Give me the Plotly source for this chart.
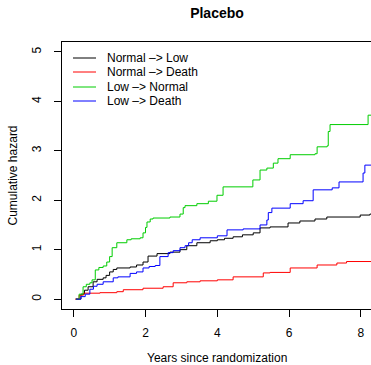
import plotly.graph_objects as go

# ---- data ----
series_names = ["Normal –> Low", "Normal –> Death", "Low –> Normal", "Low –> Death"]
series_colors = ["#000000", "#FF0000", "#00CD00", "#0000FF"]

nl_t = [0.06, 0.2, 0.3, 0.4, 0.54, 0.65, 0.82, 0.9, 1.0, 1.1, 1.2, 1.57, 1.75, 1.93, 2.07, 2.32,
        2.68, 2.96, 3.15, 3.43, 3.8, 4.0, 4.2, 4.44, 4.7, 5.0, 5.19, 5.47, 5.97, 6.3, 6.72, 7.05,
        7.98, 8.25, 8.6]
nl_y = [0, 0.1, 0.18, 0.25, 0.35, 0.4, 0.43, 0.48, 0.55, 0.6, 0.63, 0.65, 0.69, 0.75, 0.87, 0.92,
        0.95, 1.0, 1.08, 1.14, 1.18, 1.2, 1.23, 1.26, 1.3, 1.34, 1.44, 1.46, 1.54, 1.58, 1.62, 1.66,
        1.70, 1.72, 1.72]

nd_t = [0.04, 0.15, 0.27, 0.73, 1.2, 1.38, 1.93, 2.49, 2.77, 3.15, 3.52, 4.0, 4.44, 5.28, 5.47,
        6.03, 6.78, 7.33, 7.6, 8.6]
nd_y = [0, 0.08, 0.12, 0.13, 0.15, 0.19, 0.22, 0.25, 0.33, 0.35, 0.37, 0.39, 0.45, 0.53, 0.54,
        0.63, 0.69, 0.73, 0.76, 0.76]

ln_t = [0.06, 0.15, 0.26, 0.35, 0.45, 0.51, 0.6, 0.7, 0.82, 0.92, 1.0, 1.07, 1.2, 1.48, 1.6, 1.85,
        1.93, 2.0, 2.04, 2.13, 2.21, 2.68, 2.96, 3.05, 3.1, 3.43, 3.75, 3.99, 4.16, 4.99, 5.19, 5.38,
        5.56, 5.69, 6.03, 6.72, 6.78, 7.06, 7.09, 7.14, 8.2, 8.6]
ln_y = [0, 0.1, 0.25, 0.3, 0.33, 0.39, 0.59, 0.64, 0.67, 0.75, 0.86, 1.04, 1.14, 1.2, 1.22, 1.24,
        1.34, 1.45, 1.56, 1.62, 1.64, 1.66, 1.72, 1.85, 1.89, 1.93, 1.98, 2.1, 2.27, 2.41, 2.61, 2.65,
        2.75, 2.84, 2.92, 2.94, 3.08, 3.1, 3.39, 3.53, 3.72, 3.72]

ld_t = [0.06, 0.2, 0.32, 0.45, 0.55, 0.65, 0.82, 1.1, 1.23, 1.57, 1.75, 1.93, 2.1, 2.27, 2.4, 2.63,
        2.77, 2.96, 3.1, 3.2, 3.3, 3.52, 4.0, 4.27, 4.72, 5.19, 5.38, 5.42, 5.52, 6.03, 6.39, 6.67,
        7.2, 7.39, 8.06, 8.11, 8.6]
ld_y = [0, 0.05, 0.1, 0.2, 0.26, 0.3, 0.35, 0.43, 0.45, 0.52, 0.55, 0.63, 0.66, 0.68, 0.86, 0.94,
        0.98, 1.04, 1.08, 1.14, 1.2, 1.24, 1.28, 1.40, 1.42, 1.5, 1.6, 1.75, 1.84, 1.93, 1.99, 2.21,
        2.25, 2.37, 2.55, 2.71, 2.71]

x_ticks = [0, 2, 4, 6, 8]
y_ticks = [0, 1, 2, 3, 4, 5]

series_t = [nl_t, nd_t, ln_t, ld_t]
series_y = [nl_y, nd_y, ln_y, ld_y]

W, H = 371, 365
ML, MT, MB, MR = 62, 42, 56, 0
PW, PH = W - ML - MR, H - MT - MB

FONT = "Liberation Sans, Arial, Helvetica, sans-serif"

fig = go.Figure()
for name, col, t, y in zip(series_names, series_colors, series_t, series_y):
    fig.add_trace(go.Scatter(x=t, y=y, mode="lines", name=name,
                             line=dict(color=col, width=1, shape="hv"),
                             showlegend=False, hoverinfo="skip"))

def px_x(p):
    return (p - ML) / PW

def px_y(p):
    return (H - MB - p) / PH

shapes = []
annotations = []
legend_rows = [58, 72, 87, 101]
for name, col, ry in zip(series_names, series_colors, legend_rows):
    shapes.append(dict(type="line", xref="paper", yref="paper",
                       x0=px_x(73), x1=px_x(96), y0=px_y(ry), y1=px_y(ry),
                       line=dict(color=col, width=1)))
    annotations.append(dict(text=name, xref="paper", yref="paper",
                            x=px_x(105), y=px_y(ry), xanchor="left", yanchor="middle",
                            showarrow=False, font=dict(size=12, color="#000000", family=FONT)))

annotations.append(dict(text="Years since randomization", xref="paper", yref="paper",
                        x=px_x(217), y=px_y(358), xanchor="center", yanchor="middle",
                        showarrow=False, font=dict(size=12, color="#000000", family=FONT)))
annotations.append(dict(text="Cumulative hazard", xref="paper", yref="paper",
                        x=px_x(12), y=px_y(175.5), xanchor="center", yanchor="middle",
                        textangle=-90, showarrow=False,
                        font=dict(size=12, color="#000000", family=FONT)))

fig.update_layout(
    width=W, height=H,
    margin=dict(l=ML, r=MR, t=MT, b=MB, pad=0),
    paper_bgcolor="white", plot_bgcolor="white",
    font=dict(family=FONT, size=12, color="#000000"),
    title=dict(text="<b>Placebo</b>", x=217 / W, xanchor="center",
               y=1 - 13 / H, yanchor="middle", font=dict(size=14, family=FONT, color="#000000")),
    shapes=shapes, annotations=annotations,
    showlegend=False,
    xaxis=dict(range=[-0.327, 8.281], tickvals=x_ticks, ticktext=[str(v) for v in x_ticks],
               showgrid=False, zeroline=False, showline=True, mirror=True,
               linecolor="#000000", linewidth=1, ticks="outside", ticklen=7,
               tickcolor="#000000", tickwidth=1, ticklabelstandoff=6,
               tickfont=dict(size=12, family=FONT, color="#000000")),
    yaxis=dict(range=[-0.2, 5.2], tickvals=y_ticks, ticktext=[str(v) for v in y_ticks],
               showgrid=False, zeroline=False, showline=True, mirror=False,
               linecolor="#000000", linewidth=1, ticks="outside", ticklen=7,
               tickcolor="#000000", tickwidth=1, tickangle=-90, ticklabelstandoff=8,
               tickfont=dict(size=12, family=FONT, color="#000000")),
)

fig.write_html("out.html")
